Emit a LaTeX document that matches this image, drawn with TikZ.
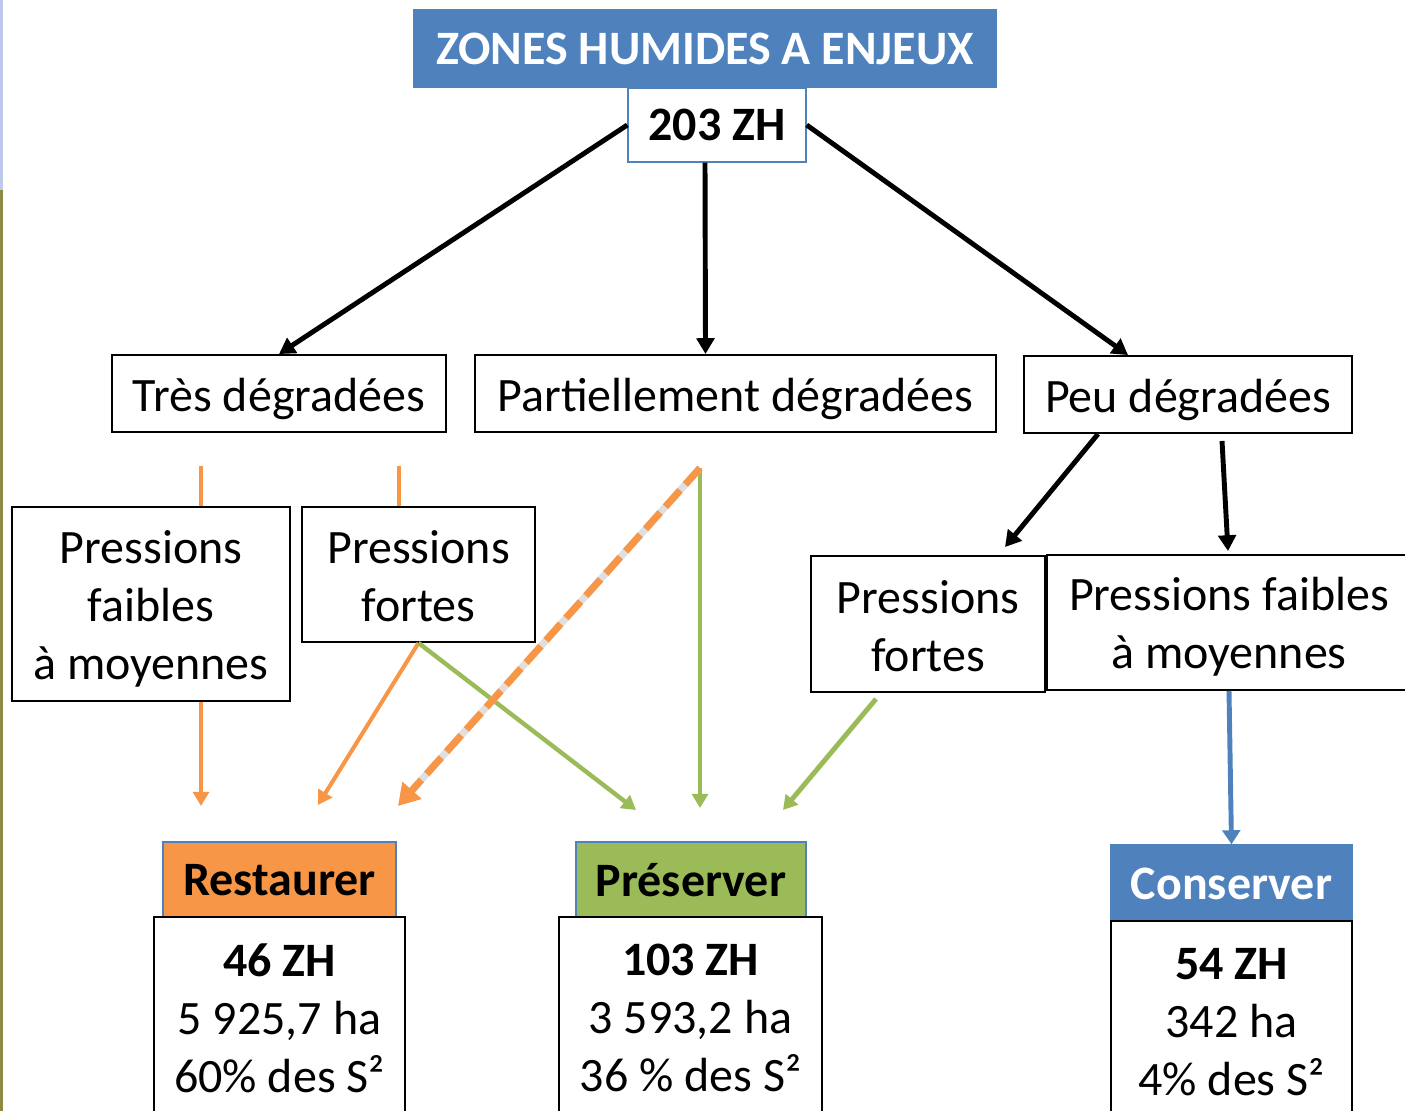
\documentclass[tikz,border=0pt]{standalone}
\usepackage{fontspec}
\setmainfont{Carlito}
\usetikzlibrary{arrows.meta,calc}
\definecolor{bleuZH}{HTML}{4F81BD}
\definecolor{orangeZH}{HTML}{F79646}
\definecolor{vertZH}{HTML}{9BBB59}
\newcommand\hautl{\rule{0pt}{0.88em}}
\newcommand\hautc{\rule{0pt}{0.76em}}
\begin{document}
\begin{tikzpicture}[x=0.02cm,y=-0.02cm,font=\fontsize{27.3}{33}\selectfont,
  boite/.style={draw,line width=1.1pt,fill=white,align=center,inner sep=0pt},
  cadre/.style={boite,execute at begin node={\rule{0pt}{0.92em}}},
  entete/.style={draw=bleuZH,line width=0.8pt,inner sep=0pt,font=\fontsize{27.3}{33}\selectfont\bfseries},
  noir/.style={line width=2.8pt,-{Triangle[length=9pt,width=10pt]}},
  flo/.style={orangeZH,line width=2.3pt,-{Triangle[length=8pt,width=9pt]}},
  flv/.style={vertZH,line width=2.5pt,-{Triangle[length=8pt,width=9pt]}}]
\useasboundingbox (0,0) rectangle (1405,1111);
% bande de photo a gauche
\fill[cyan!40!blue!25!white] (0,0) rectangle (3,190);
\fill[olive!55!gray] (0,190) rectangle (3,1111);
% extremites libres des fleches
\foreach \n/\x/\y in {o1/201/466,o2/399/466,m/700/468,r1/201/806,r2/318/805,r3/398/806,p1/636/810,p2/700/808,p3/783/810}
  \coordinate (\n) at (\x,\y);
\draw[flo] (o1) -- (r1);
% haut
\node[fill=bleuZH,text=white,font=\fontsize{27.3}{33}\selectfont\bfseries,minimum width=11.68cm,minimum height=1.58cm] (titre) at (705,48.5) {ZONES HUMIDES A ENJEUX};
\node[boite,draw=bleuZH,line width=0.8pt,font=\fontsize{27.3}{33}\selectfont\bfseries,minimum width=3.56cm,minimum height=1.48cm] (zh) at (717,125) {203 ZH};
\node[cadre,minimum width=6.68cm,minimum height=1.54cm] (tres) at (279,393.5) {Très dégradées};
\node[cadre,minimum width=10.42cm,minimum height=1.54cm] (partiel) at (735.5,393.5) {Partiellement dégradées};
\node[cadre,minimum width=6.56cm,minimum height=1.54cm] (peu) at (1188,394.5) {Peu dégradées};
% pressions
\node[boite,minimum width=5.56cm,minimum height=3.88cm] (pfm1) at (151,604) {\hautl Pressions\\faibles\\à moyennes};
\node[boite,minimum width=4.66cm,minimum height=2.7cm] (pf1) at (418.5,574.5) {\hautc Pressions\\fortes};
\node[boite,minimum width=4.68cm,minimum height=2.72cm] (pf2) at (928,624) {\hautc Pressions\\fortes};
\node[boite,minimum width=7.28cm,minimum height=2.7cm] (pfm2) at (1229,622.5) {\hautl Pressions faibles\\à moyennes};
% bas
\node[entete,fill=orangeZH,minimum width=4.66cm,minimum height=1.52cm] (rest) at (279.5,880) {Restaurer};
\node[boite,minimum width=5.02cm,minimum height=4.04cm] (restd) at (279.5,1018) {\textbf{46 ZH}\\5 925,7 ha\\60\% des S²};
\node[entete,fill=vertZH,minimum width=4.6cm,minimum height=1.52cm] (pres) at (691,880) {Préserver};
\node[boite,minimum width=5.26cm,minimum height=4.04cm] (presd) at (690.5,1018) {\textbf{103 ZH}\\3 593,2 ha\\36 \% des S²};
\node[entete,fill=bleuZH,text=white,minimum width=4.82cm,minimum height=1.54cm] (cons) at (1231.5,883.5) {Conserver};
\node[boite,minimum width=4.82cm,minimum height=4.06cm] (consd) at (1231.5,1022.5) {\textbf{54 ZH}\\342 ha\\4\% des S²};
% fleches
\draw[noir] (zh.west) -- (tres.north);
\draw[noir] ($(zh.south)+(-12,0)$) -- ($(partiel.north)+(-30,0)$);
\draw[noir] (zh.east) -- ($(peu.north)+(-60,0)$);
\draw[noir] ($(peu.south)+(-90,0)$) -- ($(pf2.north)+(77,-8)$);
\draw[noir] ($(peu.south)+(34,7)$) -- ($(pfm2.north)+(-1,-3)$);
\draw[orangeZH,line width=2.3pt] (o2) -- (o2 |- pf1.north);
\draw[flo] (pf1.south) -- (r2);
\draw[flv] (pf1.south) -- (p1);
\draw[flv] (m) -- (p2);
\draw[gray!25,line width=4pt,shorten >=10pt] (m) -- (r3);
\draw[orangeZH,line width=4pt,dash pattern=on 12.5pt off 4.5pt,-{Triangle[length=12pt,width=14pt]}] (m) -- (r3);
\draw[flv,line width=2.8pt] ($(pf2.south)+(-52,6)$) -- (p3);
\draw[bleuZH,line width=2.8pt,-{Triangle[length=8pt,width=10pt]}] (pfm2.south) -- (cons.north);
\end{tikzpicture}
\end{document}
